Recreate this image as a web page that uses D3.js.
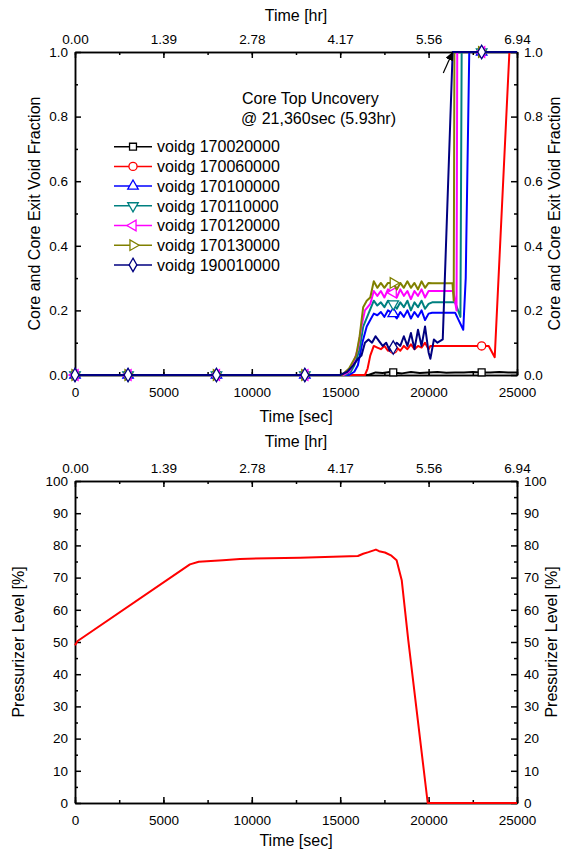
<!DOCTYPE html>
<html>
<head>
<meta charset="utf-8">
<script src="https://cdn.jsdelivr.net/npm/d3@7"></script>
<style>
  body { margin: 0; background: #fff; }
  svg text { font-family: "Liberation Sans", Arial, sans-serif; fill: #000; }
  .axis path, .axis line { stroke: #000; stroke-width: 1.5px; }
  .axis text { font-size: 13.5px; }
  .title { font-size: 16px; }
</style>
</head>
<body>
<div class="chart"></div>
<script>
// ---- data ----
var xTicks = [0, 5000, 10000, 15000, 20000, 25000];
var hrLabels = ["0.00", "1.39", "2.78", "4.17", "5.56", "6.94"];
var markerTimes = [0, 3000, 8000, 13000, 18000, 23000];

var seriesNames = ["voidg 170020000", "voidg 170060000", "voidg 170100000", "voidg 170110000",
  "voidg 170120000", "voidg 170130000", "voidg 190010000"];

var tBlack = [0, 3000, 8000, 13000, 16600, 16800, 17000, 17400, 17800, 18000, 18500, 19000, 19500, 20000,
  20500, 21000, 21500, 22000, 22500, 23000, 23500, 24000, 24500, 25000];
var vBlack = [0, 0, 0, 0, 0, 0.004, 0.008, 0.006, 0.009, 0.008, 0.005, 0.009, 0.006, 0.008,
  0.009, 0.007, 0.008, 0.008, 0.009, 0.008, 0.008, 0.009, 0.008, 0.008];

var tRed = [0, 3000, 8000, 13000, 16400, 16550, 16700, 16900, 17100, 17300, 17500, 17700, 18000, 18200,
  18400, 18600, 18800, 19000, 19200, 19400, 19600, 19800, 20000, 20100, 21000, 22000, 23000, 23400,
  23740, 24570, 25000];
var vRed = [0, 0, 0, 0, 0, 0.02, 0.06, 0.09, 0.085, 0.08, 0.09, 0.075, 0.08, 0.085,
  0.075, 0.09, 0.08, 0.095, 0.08, 0.09, 0.085, 0.1, 0.08, 0.09, 0.09, 0.09, 0.09, 0.09,
  0.055, 1, 1];

var tBlue = [0, 3000, 8000, 13000, 15500, 15800, 16000, 16250, 16500, 16700, 16900, 17100, 17300, 17500,
  17700, 18000, 18200, 18400, 18600, 18800, 19000, 19200, 19400, 19600, 19800, 20000, 20200, 21000,
  21500, 21700, 21960, 22100, 22300, 23000, 25000];
var vBlue = [0, 0, 0, 0, 0, 0.01, 0.03, 0.1, 0.15, 0.17, 0.19, 0.185, 0.195, 0.18,
  0.2, 0.19, 0.175, 0.195, 0.18, 0.2, 0.175, 0.195, 0.18, 0.2, 0.17, 0.19, 0.193, 0.193,
  0.193, 0.17, 0.14, 0.3, 1, 1, 1];

var tTeal = [0, 3000, 8000, 13000, 15300, 15600, 15800, 16100, 16300, 16600, 16900, 17100, 17300, 17500,
  17700, 18000, 18200, 18400, 18600, 18800, 19000, 19200, 19400, 19600, 19800, 20000, 20200, 21000,
  21500, 21800, 21870, 23000, 25000];
var vTeal = [0, 0, 0, 0, 0, 0.01, 0.03, 0.08, 0.15, 0.19, 0.23, 0.215, 0.225, 0.21,
  0.23, 0.22, 0.205, 0.225, 0.21, 0.23, 0.2, 0.225, 0.21, 0.23, 0.205, 0.22, 0.225, 0.225,
  0.225, 0.18, 1, 1, 1];

var tMag = [0, 3000, 8000, 13000, 15200, 15500, 15700, 16000, 16200, 16400, 16700, 16900, 17100, 17300,
  17500, 17700, 18000, 18200, 18400, 18600, 18800, 19000, 19200, 19400, 19600, 19800, 20000, 20200,
  21000, 21400, 21580, 21620, 23000, 25000];
var vMag = [0, 0, 0, 0, 0, 0.01, 0.03, 0.08, 0.15, 0.2, 0.22, 0.26, 0.245, 0.26,
  0.24, 0.265, 0.255, 0.24, 0.265, 0.245, 0.26, 0.235, 0.26, 0.245, 0.265, 0.24, 0.26, 0.26,
  0.26, 0.26, 0.2, 1, 1, 1];

var tOlive = [0, 3000, 8000, 13000, 15100, 15500, 15900, 16100, 16300, 16500, 16700, 16900, 17100, 17300,
  17500, 17700, 18000, 18200, 18400, 18600, 18800, 19000, 19200, 19400, 19600, 19800, 20000, 20200,
  21000, 21350, 21420, 21460, 23000, 25000];
var vOlive = [0, 0, 0, 0, 0, 0.02, 0.06, 0.12, 0.21, 0.23, 0.24, 0.29, 0.27, 0.285,
  0.27, 0.285, 0.285, 0.265, 0.285, 0.27, 0.29, 0.27, 0.285, 0.265, 0.29, 0.27, 0.285, 0.284,
  0.284, 0.284, 0.23, 1, 1, 1];

var tNavy = [0, 3000, 8000, 13000, 15000, 15400, 15740, 16000, 16200, 16400, 16600, 16800, 17000, 17200,
  17400, 17600, 17800, 18000, 18200, 18400, 18600, 18800, 19000, 19200, 19400, 19600, 19800, 20000,
  20100, 20300, 20500, 20800, 21360, 23000, 25000];
var vNavy = [0, 0, 0, 0, 0, 0.01, 0.03, 0.05, 0.06, 0.1, 0.11, 0.1, 0.12, 0.105,
  0.09, 0.1, 0.075, 0.085, 0.1, 0.09, 0.12, 0.09, 0.13, 0.08, 0.14, 0.09, 0.15, 0.07,
  0.05, 0.11, 0.1, 0.11, 1, 1, 1];

var tPzr = [0, 150, 6500, 7000, 8370, 9330, 12730, 16000, 16300, 16600, 17020, 17200, 17530, 17900,
  18190, 18480, 18850, 19950, 25000];
var vPzr = [49.0, 50.3, 74.1, 74.9, 75.4, 75.8, 76.2, 76.7, 77.4, 77.9, 78.7, 78.2, 77.8, 76.8,
  75.4, 69.2, 50.6, 0, 0];

// ---- layout ----
var svgWidth = 569, svgHeight = 852;
var left = 75, right = 517;

var svg = d3.select(".chart").append("svg")
  .attr("width", svgWidth)
  .attr("height", svgHeight);

var x = d3.scaleLinear().domain([0, 25000]).range([left, right]);
var minorX = d3.range(0, 25001, 2500);

function frame(y, yTicks, yMinor, yFmt, leftTitle, leftTitleX, rightTitleX, top, bottom, secY, hrTitleY) {
  var g = svg.append("g");

  // minor ticks
  g.append("g").attr("class", "axis").attr("transform", `translate(0,${bottom})`)
    .call(d3.axisBottom(x).tickValues(minorX).tickSize(-3).tickSizeOuter(0).tickFormat(""));
  g.append("g").attr("class", "axis").attr("transform", `translate(0,${top})`)
    .call(d3.axisTop(x).tickValues(minorX).tickSize(-3).tickSizeOuter(0).tickFormat(""));
  g.append("g").attr("class", "axis").attr("transform", `translate(${left},0)`)
    .call(d3.axisLeft(y).tickValues(yMinor).tickSize(-3).tickSizeOuter(0).tickFormat(""));
  g.append("g").attr("class", "axis").attr("transform", `translate(${right},0)`)
    .call(d3.axisRight(y).tickValues(yMinor).tickSize(-3).tickSizeOuter(0).tickFormat(""));

  // major ticks + labels
  g.append("g").attr("class", "axis").attr("transform", `translate(0,${bottom})`)
    .call(d3.axisBottom(x).tickValues(xTicks).tickSize(-6).tickSizeOuter(0).tickPadding(12).tickFormat(d3.format("d")));
  g.append("g").attr("class", "axis").attr("transform", `translate(0,${top})`)
    .call(d3.axisTop(x).tickValues(xTicks).tickSize(-6).tickSizeOuter(0).tickPadding(8)
      .tickFormat((d, i) => hrLabels[i]));
  g.append("g").attr("class", "axis").attr("transform", `translate(${left},0)`)
    .call(d3.axisLeft(y).tickValues(yTicks).tickSize(-6).tickSizeOuter(0).tickPadding(7).tickFormat(yFmt));
  g.append("g").attr("class", "axis").attr("transform", `translate(${right},0)`)
    .call(d3.axisRight(y).tickValues(yTicks).tickSize(-6).tickSizeOuter(0).tickPadding(7).tickFormat(yFmt));

  g.selectAll(".axis .domain").attr("stroke-width", 1.8);

  g.append("text").attr("class", "title")
    .attr("x", (left + right) / 2).attr("y", secY).attr("dy", "0.35em")
    .attr("text-anchor", "middle").text("Time [sec]");
  g.append("text").attr("class", "title")
    .attr("x", (left + right) / 2).attr("y", hrTitleY).attr("dy", "0.35em")
    .attr("text-anchor", "middle").text("Time [hr]");
  var cy = (top + bottom) / 2;
  g.append("text").attr("class", "title")
    .attr("transform", `translate(${leftTitleX},${cy}) rotate(-90)`)
    .attr("dy", "0.35em").attr("text-anchor", "middle").text(leftTitle);
  g.append("text").attr("class", "title")
    .attr("transform", `translate(${rightTitleX},${cy}) rotate(-90)`)
    .attr("dy", "0.35em").attr("text-anchor", "middle").text(leftTitle);
  return g;
}

// ---- top chart: void fraction ----
var topT = 52, topB = 375;
var y1 = d3.scaleLinear().domain([0, 1]).range([topB, topT]);
frame(y1, d3.range(0, 1.01, 0.2), d3.range(0.1, 1, 0.2), d3.format(".1f"),
  "Core and Core Exit Void Fraction", 34, 554, topT, topB, 416, 15);

var colors = ["#000000", "#ff0000", "#0000ff", "#008080", "#ff00ff", "#808000", "#000080"];
var tArrays = [tBlack, tRed, tBlue, tTeal, tMag, tOlive, tNavy];
var vArrays = [vBlack, vRed, vBlue, vTeal, vMag, vOlive, vNavy];
var symbols = [
  { type: d3.symbolSquare, size: 48, rot: 0 },
  { type: d3.symbolCircle, size: 52, rot: 0 },
  { type: d3.symbolTriangle, size: 48, rot: 0 },
  { type: d3.symbolTriangle, size: 48, rot: 180 },
  { type: d3.symbolTriangle, size: 48, rot: -90 },
  { type: d3.symbolTriangle, size: 48, rot: 90 },
  { type: d3.symbolDiamond, size: 52, rot: 0 }
];

var line1 = d3.line().x(d => x(d[0])).y(d => y1(d[1]));

seriesNames.forEach(function (name, i) {
  var pts = tArrays[i].map((t, k) => [t, vArrays[i][k]]);
  var g = svg.append("g");
  g.append("path").datum(pts)
    .attr("d", line1)
    .attr("fill", "none")
    .attr("stroke", colors[i])
    .attr("stroke-width", 2)
    .attr("stroke-linejoin", "round");
  g.selectAll("path.mk")
    .data(pts.filter(d => markerTimes.indexOf(d[0]) >= 0))
    .enter().append("path")
    .attr("class", "mk")
    .attr("d", d3.symbol().type(symbols[i].type).size(symbols[i].size))
    .attr("transform", d => `translate(${x(d[0])},${y1(d[1])}) rotate(${symbols[i].rot})`)
    .attr("fill", "#fff")
    .attr("stroke", colors[i])
    .attr("stroke-width", 1.3);
});

// legend
var legend = svg.append("g");
seriesNames.forEach(function (name, i) {
  var ly = 146.7 + i * 19.7;
  legend.append("line")
    .attr("x1", 114).attr("x2", 152).attr("y1", ly).attr("y2", ly)
    .attr("stroke", colors[i]).attr("stroke-width", 1.5);
  legend.append("path")
    .attr("d", d3.symbol().type(symbols[i].type).size(symbols[i].size))
    .attr("transform", `translate(133,${ly}) rotate(${symbols[i].rot})`)
    .attr("fill", "#fff").attr("stroke", colors[i]).attr("stroke-width", 1.3);
  legend.append("text").attr("class", "title")
    .attr("x", 157).attr("y", ly).attr("dy", "0.36em").text(name);
});

// annotation
svg.append("text").attr("class", "title").attr("x", 242).attr("y", 103.5).text("Core Top Uncovery");
svg.append("text").attr("class", "title").attr("x", 241).attr("y", 124).text("@ 21,360sec (5.93hr)");

svg.append("defs").append("marker")
  .attr("id", "arrow").attr("viewBox", "0 0 10 10")
  .attr("refX", 10).attr("refY", 5)
  .attr("markerWidth", 7).attr("markerHeight", 7)
  .attr("orient", "auto")
  .append("path").attr("d", "M0,0 L10,5 L0,10 z").attr("fill", "#000");
svg.append("line")
  .attr("x1", x(20830)).attr("y1", y1(0.935))
  .attr("x2", x(21360)).attr("y2", y1(1.0))
  .attr("stroke", "#000").attr("stroke-width", 1.2)
  .attr("marker-end", "url(#arrow)");

// ---- bottom chart: pressurizer level ----
var botT = 481, botB = 803;
var y2 = d3.scaleLinear().domain([0, 100]).range([botB, botT]);
frame(y2, d3.range(0, 101, 10), d3.range(5, 100, 10), d3.format("d"),
  "Pressurizer Level [%]", 18, 551, botT, botB, 840, 441);

var line2 = d3.line().x(d => x(d[0])).y(d => y2(d[1]));
svg.append("path")
  .datum(tPzr.map((t, k) => [t, vPzr[k]]))
  .attr("d", line2)
  .attr("fill", "none")
  .attr("stroke", "#ff0000")
  .attr("stroke-width", 2)
  .attr("stroke-linejoin", "round");
</script>
</body>
</html>
